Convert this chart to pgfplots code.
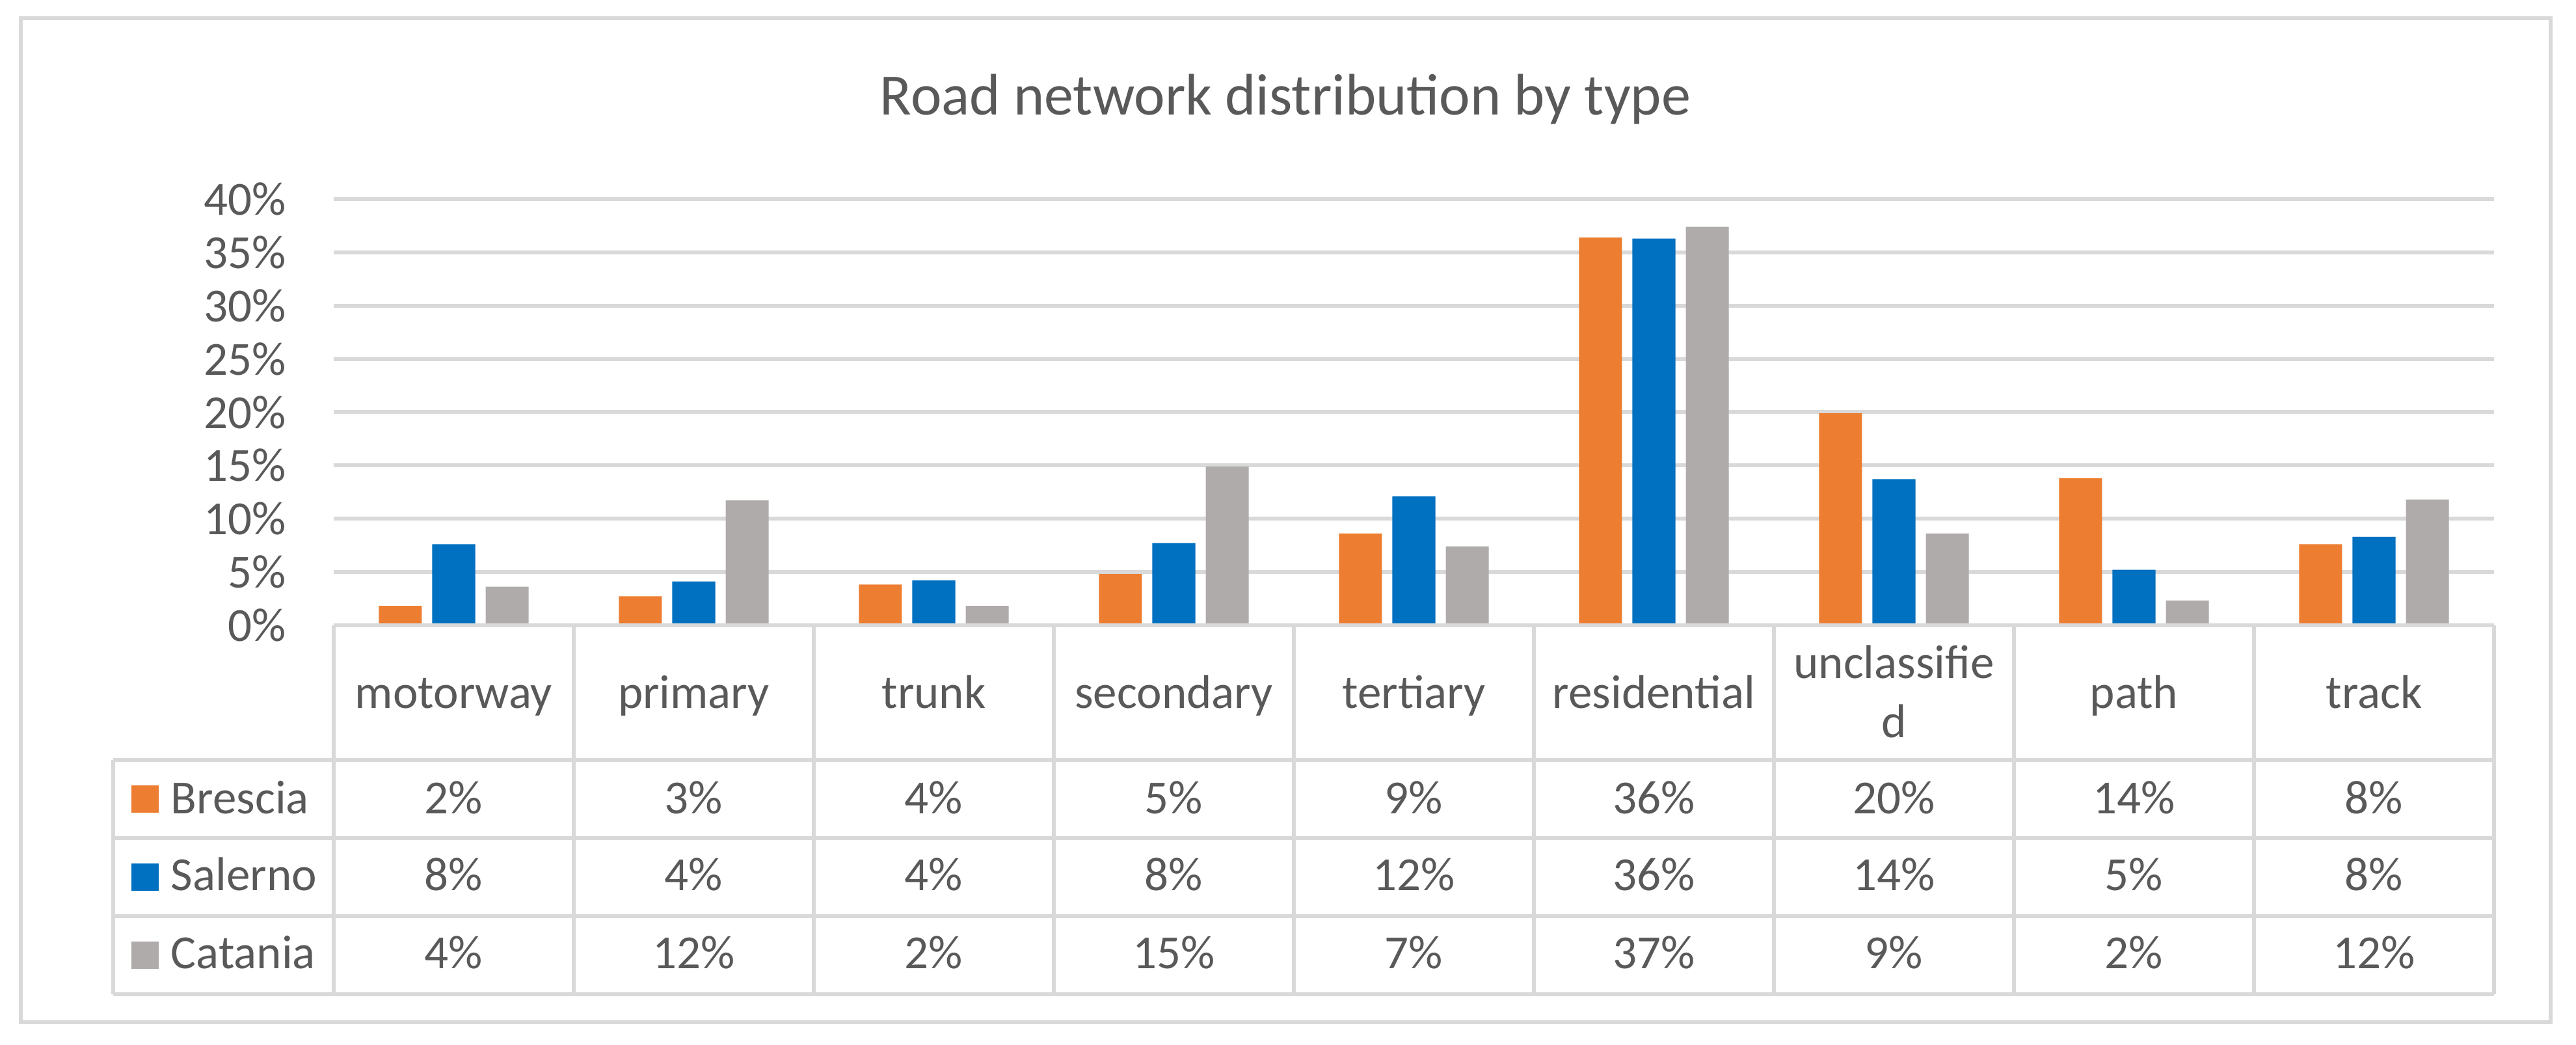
\documentclass[border=0pt]{standalone}
\usepackage{fontspec}
\setmainfont{Carlito}
\usepackage{pgfplots}
\usepackage{pgfplotstable}
\pgfplotsset{compat=1.18}
\definecolor{cBre}{HTML}{ED7D31}
\definecolor{cSal}{HTML}{0070C0}
\definecolor{cCat}{HTML}{AFABAB}
\definecolor{cGrid}{HTML}{D9D9D9}
\definecolor{cText}{HTML}{595959}
\newcommand\tf{\fontsize{14.6}{17.5}\selectfont}

\pgfplotstableread{
x bre sal cat
0 1.8 7.6 3.6
1 2.7 4.1 11.7
2 3.8 4.2 1.8
3 4.8 7.7 14.9
4 8.6 12.1 7.4
5 36.4 36.3 37.4
6 19.9 13.7 8.6
7 13.8 5.2 2.3
8 7.6 8.3 11.8
}\data

\begin{document}
\begin{tikzpicture}
\begin{axis}[
  scale only axis, width=663.8pt, height=130.8pt,
  xmin=-0.5, xmax=8.5, ymin=0, ymax=40,
  ybar=3.2pt, bar width=13.2pt,
  axis line style={draw=none},
  xtick=\empty,
  ytick={0,5,...,40},
  yticklabel={\pgfmathprintnumber{\tick}\%},
  /pgf/number format/assume math mode=true,
  yticklabel style={font=\tf, text=cText, inner sep=0pt, xshift=-14.4pt},
  major tick length=0pt,
  ymajorgrids, grid style={cGrid, line width=1.2pt},
  clip=false,
]
\addplot[fill=cBre, draw=none] table[x=x,y=bre]{\data};
\addplot[fill=cSal, draw=none] table[x=x,y=sal]{\data};
\addplot[fill=cCat, draw=none] table[x=x,y=cat]{\data};

% bounding box and outer frame
\path (axis cs:-1.8902,58.716) rectangle (axis cs:8.8415,-39.45);
\draw[cGrid, line width=1.2pt] (axis cs:-1.8035,57.0) rectangle (axis cs:8.7358,-37.31);

% title
\node[anchor=base, font=\fontsize{18}{22}\selectfont, text=cText] at (axis cs:3.465,47.95) {Road network distribution by type};

% data table lines
\draw[cGrid, line width=1.2pt] (axis cs:-0.5,0) -- (axis cs:8.5,0);
\draw[cGrid, line width=1.2pt] (axis cs:-1.4187,-12.66) -- (axis cs:8.5,-12.66);
\draw[cGrid, line width=1.2pt] (axis cs:-1.4187,-20.0) -- (axis cs:8.5,-20.0);
\draw[cGrid, line width=1.2pt] (axis cs:-1.4187,-27.34) -- (axis cs:8.5,-27.34);
\draw[cGrid, line width=1.2pt] (axis cs:-1.4187,-34.68) -- (axis cs:8.5,-34.68);
\draw[cGrid, line width=1.2pt] (axis cs:-1.4187,-12.66) -- (axis cs:-1.4187,-34.68);
\pgfplotsinvokeforeach{-0.5,0.5,1.5,2.5,3.5,4.5,5.5,6.5,7.5,8.5}{
  \draw[cGrid, line width=1.2pt] (axis cs:#1,0) -- (axis cs:#1,-34.68);
}

% category labels
\node[anchor=base, font=\tf, text=cText] at (axis cs:0,-7.83) {motorway};
\node[anchor=base, font=\tf, text=cText] at (axis cs:1,-7.83) {primary};
\node[anchor=base, font=\tf, text=cText] at (axis cs:2,-7.83) {trunk};
\node[anchor=base, font=\tf, text=cText] at (axis cs:3,-7.83) {secondary};
\node[anchor=base, font=\tf, text=cText] at (axis cs:4,-7.83) {tertiary};
\node[anchor=base, font=\tf, text=cText] at (axis cs:5,-7.83) {residential};
\node[anchor=base, font=\tf, text=cText] at (axis cs:6,-5.02) {unclassifie};
\node[anchor=base, font=\tf, text=cText] at (axis cs:6,-10.58) {d};
\node[anchor=base, font=\tf, text=cText] at (axis cs:7,-7.83) {path};
\node[anchor=base, font=\tf, text=cText] at (axis cs:8,-7.83) {track};

% legend keys and names
\node[fill=cBre, inner sep=0pt, minimum size=8.4pt] at (axis cs:-1.2859,-16.33) {};
\node[fill=cSal, inner sep=0pt, minimum size=8.4pt] at (axis cs:-1.2859,-23.67) {};
\node[fill=cCat, inner sep=0pt, minimum size=8.4pt] at (axis cs:-1.2859,-31.01) {};
\node[anchor=base west, inner sep=0pt, font=\tf, text=cText] at (axis cs:-1.1802,-17.74) {Brescia};
\node[anchor=base west, inner sep=0pt, font=\tf, text=cText] at (axis cs:-1.1802,-24.95) {Salerno};
\node[anchor=base west, inner sep=0pt, font=\tf, text=cText] at (axis cs:-1.1802,-32.29) {Catania};

% values: Brescia
\pgfplotsinvokeforeach{0/2,1/3,2/4,3/5,4/9,5/36,6/20,7/14,8/8}{}
\node[anchor=base, font=\tf, text=cText] at (axis cs:0,-17.74) {2\%};
\node[anchor=base, font=\tf, text=cText] at (axis cs:1,-17.74) {3\%};
\node[anchor=base, font=\tf, text=cText] at (axis cs:2,-17.74) {4\%};
\node[anchor=base, font=\tf, text=cText] at (axis cs:3,-17.74) {5\%};
\node[anchor=base, font=\tf, text=cText] at (axis cs:4,-17.74) {9\%};
\node[anchor=base, font=\tf, text=cText] at (axis cs:5,-17.74) {36\%};
\node[anchor=base, font=\tf, text=cText] at (axis cs:6,-17.74) {20\%};
\node[anchor=base, font=\tf, text=cText] at (axis cs:7,-17.74) {14\%};
\node[anchor=base, font=\tf, text=cText] at (axis cs:8,-17.74) {8\%};
% Salerno
\node[anchor=base, font=\tf, text=cText] at (axis cs:0,-24.95) {8\%};
\node[anchor=base, font=\tf, text=cText] at (axis cs:1,-24.95) {4\%};
\node[anchor=base, font=\tf, text=cText] at (axis cs:2,-24.95) {4\%};
\node[anchor=base, font=\tf, text=cText] at (axis cs:3,-24.95) {8\%};
\node[anchor=base, font=\tf, text=cText] at (axis cs:4,-24.95) {12\%};
\node[anchor=base, font=\tf, text=cText] at (axis cs:5,-24.95) {36\%};
\node[anchor=base, font=\tf, text=cText] at (axis cs:6,-24.95) {14\%};
\node[anchor=base, font=\tf, text=cText] at (axis cs:7,-24.95) {5\%};
\node[anchor=base, font=\tf, text=cText] at (axis cs:8,-24.95) {8\%};
% Catania
\node[anchor=base, font=\tf, text=cText] at (axis cs:0,-32.29) {4\%};
\node[anchor=base, font=\tf, text=cText] at (axis cs:1,-32.29) {12\%};
\node[anchor=base, font=\tf, text=cText] at (axis cs:2,-32.29) {2\%};
\node[anchor=base, font=\tf, text=cText] at (axis cs:3,-32.29) {15\%};
\node[anchor=base, font=\tf, text=cText] at (axis cs:4,-32.29) {7\%};
\node[anchor=base, font=\tf, text=cText] at (axis cs:5,-32.29) {37\%};
\node[anchor=base, font=\tf, text=cText] at (axis cs:6,-32.29) {9\%};
\node[anchor=base, font=\tf, text=cText] at (axis cs:7,-32.29) {2\%};
\node[anchor=base, font=\tf, text=cText] at (axis cs:8,-32.29) {12\%};
\end{axis}
\end{tikzpicture}
\end{document}
